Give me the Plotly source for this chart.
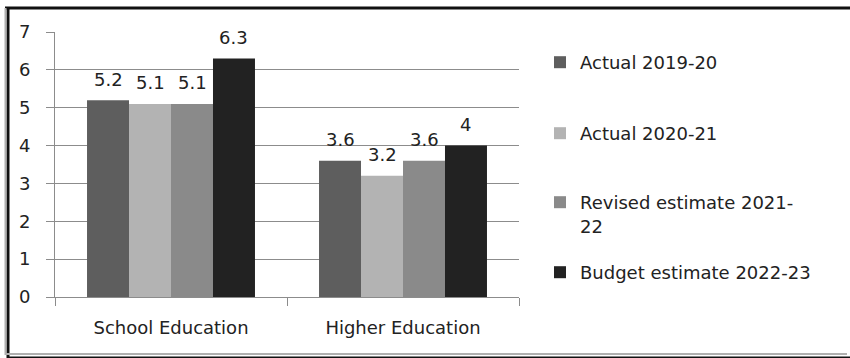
import plotly.graph_objects as go

# Education spending, % of total expenditure
categories = ["School Education", "Higher Education"]
series_names = [
    "Actual 2019-20",
    "Actual 2020-21",
    "Revised estimate 2021-<br>22",
    "Budget estimate 2022-23",
]
actual_2019_20 = [5.2, 3.6]
actual_2020_21 = [5.1, 3.2]
revised_2021_22 = [5.1, 3.6]
budget_2022_23 = [6.3, 4.0]
y_ticks = [0, 1, 2, 3, 4, 5, 6, 7]

series_values = [actual_2019_20, actual_2020_21, revised_2021_22, budget_2022_23]
colors = ["#5e5e5e", "#b3b3b3", "#8a8a8a", "#222222"]

W, H = 850, 358
L, R, T, B = 55, 519, 32, 297  # plot area in pixels
FONT = "DejaVu Sans"
TXT = "#222222"
GRID = "#8c8c8c"


def px_x(p):
    return (p - L) / (R - L)


def px_y(p):
    return (B - p) / (B - T)


fig = go.Figure()
legend_ids = ["legend", "legend2", "legend3", "legend4"]
for name, vals, col, lg in zip(series_names, series_values, colors, legend_ids):
    fig.add_trace(go.Bar(
        x=categories, y=vals, name=name, legend=lg,
        marker=dict(color=col, line=dict(width=0)),
    ))

# value labels above each bar
n = len(series_values)
for i, vals in enumerate(series_values):
    offset = (i - (n - 1) / 2) / n * (1 - 0.276)
    for j, v in enumerate(vals):
        fig.add_annotation(
            x=j + offset, y=v, xref="x", yref="y",
            text=f"{v:g}", showarrow=False,
            yanchor="middle", yshift=21,
            font=dict(family=FONT, size=18, color=TXT),
        )

# outer frame
frame = [
    (5, 8, 850, 8, "#111111", 3),
    (8, 7, 8, 358, "#111111", 3),
    (5.5, 8, 5.5, 355, "#b0b0b0", 2),
    (5, 354, 847, 354, "#b0b0b0", 2),
    (8, 357.5, 850, 357.5, "#111111", 2),
]
for x0, y0, x1, y1, c, w in frame:
    fig.add_shape(type="line", xref="paper", yref="paper",
                  x0=px_x(x0), y0=px_y(y0), x1=px_x(x1), y1=px_y(y1),
                  line=dict(color=c, width=w), layer="above")

legend_tops = [44, 115, 184, 254]
legend_common = dict(
    x=px_x(540), xanchor="left", yanchor="top",
    font=dict(family=FONT, size=18, color=TXT),
    bgcolor="rgba(0,0,0,0)", valign="top", itemwidth=30,
    itemclick=False, itemdoubleclick=False,
)

layout_legends = {}
for lg, top in zip(legend_ids, legend_tops):
    layout_legends[lg] = dict(legend_common, y=px_y(top))

fig.update_layout(
    width=W, height=H,
    margin=dict(l=L, r=W - R, t=T, b=H - B, pad=0),
    paper_bgcolor="white", plot_bgcolor="white",
    barmode="group", bargap=0.276, bargroupgap=0,
    showlegend=True,
    font=dict(family=FONT, size=18, color=TXT),
    xaxis=dict(
        type="category", tickson="boundaries", ticks="outside", ticklen=8,
        tickcolor=GRID, showline=True, linecolor=GRID, linewidth=1,
        showgrid=False, ticklabelstandoff=14,
        tickfont=dict(family=FONT, size=18, color=TXT),
    ),
    yaxis=dict(
        range=[0, 7], tickvals=y_ticks, ticks="outside", ticklen=8,
        tickcolor=GRID, showline=True, linecolor=GRID, linewidth=1,
        showgrid=True, gridcolor=GRID, gridwidth=1, zeroline=False,
        ticklabelstandoff=12,
        tickfont=dict(family=FONT, size=18, color=TXT),
    ),
    **layout_legends,
)

fig.write_html("out.html")
